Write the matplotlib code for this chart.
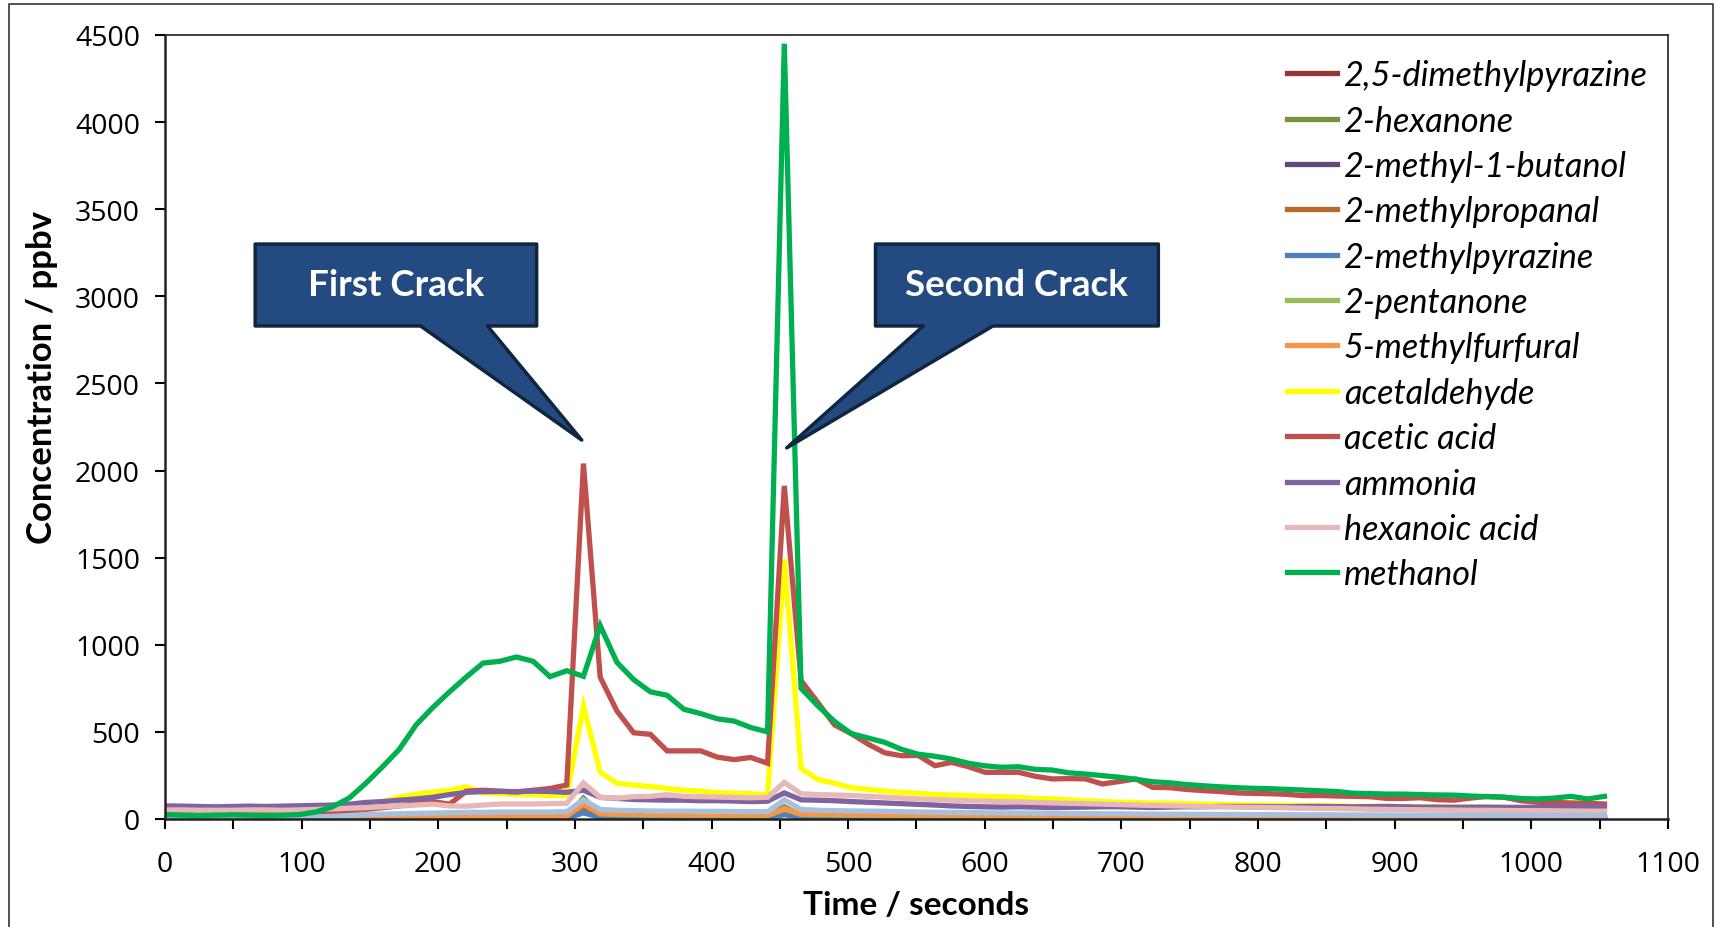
import numpy as np
import matplotlib.pyplot as plt
from matplotlib.patches import Polygon
from matplotlib.lines import Line2D

plt.rcParams['font.family'] = ['Lato', 'DejaVu Sans']

# sampling times (s)
time_s = np.arange(87) * 12.25

dimethylpyrazine_25 = [
    1, 1, 1, 1, 1, 1, 1, 1, 1, 1,
    2, 2, 2, 3, 3, 3, 4, 4, 5, 5,
    5, 6, 6, 6, 7, 45, 14, 11, 10, 9,
    9, 8, 8, 8, 8, 7, 7, 30, 11, 9,
    8, 8, 7, 7, 7, 6, 6, 6, 6, 5,
    5, 5, 5, 5, 5, 4, 4, 4, 4, 4,
    4, 4, 4, 4, 3, 3, 3, 3, 3, 3,
    3, 3, 3, 3, 3, 3, 2, 2, 2, 2,
    2, 2, 2, 2, 2, 2, 2]
hexanone_2 = [
    4, 4, 4, 4, 4, 4, 4, 4, 4, 4,
    5, 5, 6, 6, 7, 7, 8, 8, 9, 9,
    10, 10, 11, 11, 12, 120, 25, 20, 18, 17,
    16, 16, 15, 15, 15, 14, 14, 70, 20, 18,
    17, 16, 15, 15, 14, 14, 13, 13, 13, 12,
    12, 12, 11, 11, 11, 11, 10, 10, 10, 10,
    10, 9, 9, 9, 9, 9, 8, 8, 8, 8,
    8, 8, 8, 7, 7, 7, 7, 7, 7, 7,
    7, 6, 6, 6, 6, 6, 6]
methyl_butanol = [
    5, 5, 5, 5, 5, 5, 5, 5, 5, 5,
    6, 6, 7, 7, 8, 8, 9, 9, 10, 10,
    11, 11, 12, 12, 12, 40, 16, 15, 14, 14,
    13, 13, 13, 12, 12, 12, 12, 30, 14, 13,
    13, 12, 12, 11, 11, 11, 10, 10, 10, 10,
    9, 9, 9, 9, 9, 8, 8, 8, 8, 8,
    8, 7, 7, 7, 7, 7, 7, 6, 6, 6,
    6, 6, 6, 6, 6, 6, 5, 5, 5, 5,
    5, 5, 5, 5, 5, 5, 5]
methylpropanal = [
    2, 2, 2, 2, 2, 2, 2, 2, 2, 2,
    3, 3, 4, 4, 5, 5, 6, 6, 7, 7,
    8, 8, 9, 9, 10, 60, 18, 15, 14, 13,
    12, 12, 11, 11, 11, 10, 10, 40, 15, 13,
    12, 12, 11, 11, 10, 10, 10, 9, 9, 9,
    9, 8, 8, 8, 8, 8, 7, 7, 7, 7,
    7, 7, 6, 6, 6, 6, 6, 6, 6, 5,
    5, 5, 5, 5, 5, 5, 5, 5, 5, 4,
    4, 4, 4, 4, 4, 4, 4]
methylpyrazine = [
    1, 1, 1, 1, 1, 1, 1, 1, 1, 1,
    1, 2, 2, 2, 2, 3, 3, 3, 3, 4,
    4, 4, 4, 5, 5, 35, 10, 8, 7, 7,
    6, 6, 6, 6, 6, 5, 5, 25, 8, 7,
    6, 6, 6, 5, 5, 5, 5, 5, 4, 4,
    4, 4, 4, 4, 4, 3, 3, 3, 3, 3,
    3, 3, 3, 3, 3, 3, 3, 2, 2, 2,
    2, 2, 2, 2, 2, 2, 2, 2, 2, 2,
    2, 2, 2, 2, 2, 1, 1]
pentanone_2 = [
    6, 6, 6, 6, 6, 6, 6, 6, 6, 6,
    7, 8, 9, 10, 11, 12, 13, 14, 15, 16,
    17, 17, 18, 18, 19, 90, 30, 26, 24, 23,
    22, 22, 21, 21, 20, 20, 20, 60, 26, 24,
    23, 22, 21, 20, 20, 19, 19, 18, 18, 17,
    17, 17, 16, 16, 16, 15, 15, 15, 14, 14,
    14, 14, 13, 13, 13, 13, 12, 12, 12, 12,
    12, 11, 11, 11, 11, 11, 10, 10, 10, 10,
    10, 10, 10, 9, 9, 9, 9]
methylfurfural = [
    3, 3, 3, 3, 3, 3, 3, 3, 3, 4,
    5, 6, 7, 8, 9, 10, 11, 12, 13, 14,
    15, 15, 16, 16, 17, 85, 30, 28, 27, 26,
    25, 25, 24, 24, 23, 23, 22, 55, 30, 28,
    27, 26, 25, 24, 24, 23, 22, 22, 21, 21,
    20, 20, 20, 19, 19, 19, 18, 18, 18, 17,
    17, 17, 17, 16, 16, 16, 16, 15, 15, 15,
    15, 15, 14, 14, 14, 14, 14, 13, 13, 13,
    13, 13, 12, 12, 12, 12, 12]
acetaldehyde = [
    10, 10, 10, 10, 10, 10, 10, 10, 12, 15,
    25, 45, 70, 100, 125, 143, 155, 165, 185, 150,
    145, 140, 140, 135, 135, 650, 268, 205, 195, 186,
    175, 165, 160, 150, 148, 145, 140, 1490, 290, 227,
    205, 180, 170, 160, 153, 148, 140, 138, 134, 130,
    128, 125, 118, 115, 110, 105, 100, 97, 94, 92,
    90, 88, 86, 84, 82, 80, 80, 78, 77, 76,
    75, 74, 73, 72, 71, 70, 70, 68, 67, 66,
    65, 64, 63, 62, 61, 60, 58]
acetic_acid = [
    30, 30, 30, 30, 32, 32, 32, 35, 35, 38,
    40, 45, 55, 65, 75, 90, 100, 85, 160, 165,
    160, 155, 165, 175, 195, 2040, 814, 620, 495, 486,
    391, 391, 391, 355, 341, 353, 320, 1912, 795, 669,
    540, 490, 430, 380, 363, 365, 306, 325, 300, 268,
    268, 268, 245, 230, 232, 230, 201, 215, 230, 182,
    180, 170, 163, 158, 150, 147, 145, 142, 134, 135,
    132, 130, 128, 118, 118, 122, 111, 108, 120, 130,
    125, 105, 96, 95, 92, 90, 86]
ammonia = [
    75, 74, 72, 70, 72, 74, 72, 74, 76, 78,
    80, 85, 95, 100, 108, 115, 125, 140, 153, 157,
    158, 157, 160, 158, 153, 165, 124, 118, 112, 110,
    108, 108, 105, 105, 103, 100, 102, 150, 110, 108,
    105, 100, 96, 92, 88, 84, 80, 75, 72, 70,
    68, 70, 68, 66, 67, 68, 70, 70, 68, 66,
    68, 70, 70, 72, 72, 72, 71, 70, 72, 72,
    71, 70, 71, 72, 70, 68, 68, 67, 68, 68,
    67, 67, 67, 68, 68, 70, 70]
hexanoic_acid = [
    52, 52, 50, 50, 50, 52, 52, 50, 52, 55,
    58, 62, 65, 70, 75, 80, 85, 75, 73, 80,
    86, 86, 86, 88, 90, 207, 124, 120, 128, 130,
    140, 130, 128, 126, 124, 122, 125, 210, 145, 140,
    138, 135, 130, 125, 120, 115, 112, 108, 105, 103,
    100, 98, 95, 92, 90, 88, 85, 83, 80, 78,
    76, 74, 72, 70, 68, 67, 66, 64, 62, 60,
    60, 58, 56, 55, 54, 53, 52, 51, 50, 50,
    49, 48, 48, 47, 46, 45, 45]
# series drawn in the chart but not listed in its legend
unlisted = [
    10, 10, 10, 10, 10, 10, 10, 10, 10, 12,
    15, 20, 25, 28, 30, 32, 34, 36, 38, 38,
    40, 40, 40, 40, 42, 110, 55, 50, 48, 46,
    45, 45, 44, 44, 43, 42, 42, 110, 55, 50,
    48, 46, 45, 44, 42, 40, 39, 38, 37, 36,
    35, 34, 34, 33, 32, 31, 30, 30, 29, 28,
    28, 27, 27, 26, 26, 25, 25, 25, 24, 24,
    24, 23, 23, 23, 22, 22, 22, 22, 21, 21,
    21, 21, 20, 20, 20, 20, 20]
methanol = [
    25, 22, 20, 22, 24, 22, 20, 22, 25, 40,
    70, 120, 205, 300, 400, 540, 640, 730, 815, 895,
    905, 930, 905, 817, 851, 819, 1110, 899, 800, 730,
    710, 630, 605, 575, 562, 525, 500, 4450, 750, 650,
    560, 490, 465, 440, 400, 372, 360, 344, 320, 305,
    297, 300, 285, 281, 265, 258, 249, 240, 228, 214,
    208, 198, 191, 185, 180, 176, 174, 170, 166, 162,
    158, 148, 146, 143, 143, 140, 138, 137, 132, 128,
    125, 118, 115, 120, 130, 115, 130]

series = [
    ('2,5-dimethylpyrazine', dimethylpyrazine_25, '#953735'),
    ('2-hexanone', hexanone_2, '#77933C'),
    ('2-methyl-1-butanol', methyl_butanol, '#604A7B'),
    ('2-methylpropanal', methylpropanal, '#B8692B'),
    ('2-methylpyrazine', methylpyrazine, '#4F81BD'),
    ('2-pentanone', pentanone_2, '#9BBB59'),
    ('5-methylfurfural', methylfurfural, '#F79646'),
    ('acetaldehyde', acetaldehyde, '#FFFF00'),
    ('acetic acid', acetic_acid, '#C0504D'),
    ('ammonia', ammonia, '#8064A2'),
    ('hexanoic acid', hexanoic_acid, '#E6B9B8'),
    (None, unlisted, '#A9C0DC'),
    ('methanol', methanol, '#00B050'),
]

fig = plt.figure(figsize=(17.24, 9.28), dpi=100)
W, H = 1724, 928
ax = fig.add_axes([165 / W, 1 - 820 / H, (1668 - 165) / W, (820 - 36) / H])

handles = []
for name, vals, col in series:
    ax.plot(time_s, vals, color=col, lw=3.8, solid_joinstyle='miter')
    if name:
        handles.append(Line2D([], [], color=col, lw=3.8, label=name))

ax.set_xlim(0, 1100)
ax.set_ylim(0, 4500)
ax.set_xticks(np.arange(0, 1101, 50))
ax.set_xticklabels([str(v) if v % 100 == 0 else '' for v in range(0, 1101, 50)])
ax.set_yticks(np.arange(0, 4501, 500))
ax.tick_params(direction='out', length=7, width=1.5, labelsize=20.5, top=False, right=False)
ax.tick_params(axis='y', pad=11)
ax.tick_params(axis='x', pad=15)
for lab in ax.get_xticklabels() + ax.get_yticklabels():
    lab.set_family(['Open Sans', 'DejaVu Sans'])
for s in ax.spines.values():
    s.set_linewidth(1.2)
    s.set_color('#222222')
ax.spines['left'].set_linewidth(1.8)
ax.spines['bottom'].set_linewidth(1.8)

ax.set_xlabel('Time / seconds', fontsize=24, fontweight='bold', labelpad=9)
ax.set_ylabel('Concentration / ppbv', fontsize=25, fontweight='bold')
ax.yaxis.set_label_coords(-0.071, 0.564)

leg = fig.legend(handles=handles, loc='upper left', bbox_to_anchor=(1270 / W, 1 - 43 / H),
                 frameon=False, prop={'style': 'italic', 'size': 24.7},
                 handlelength=1.45, handletextpad=0.2, labelspacing=0.39, borderpad=0)

# callout boxes
box_fc = '#234B82'
box_ec = '#10253F'
first = [(66, 3300), (272, 3300), (272, 2830), (236, 2830), (305, 2175), (187, 2830), (66, 2830)]
second = [(520, 3300), (727, 3300), (727, 2830), (606, 2830), (455, 2130), (555, 2830), (520, 2830)]
for pts in (first, second):
    ax.add_patch(Polygon(pts, closed=True, fc=box_fc, ec=box_ec, lw=2.5, joinstyle='round',
                         clip_on=False, zorder=5))
ax.text(169, 3068, 'First Crack', color='white', fontsize=26.5, fontweight='bold',
        ha='center', va='center', zorder=6)
ax.text(623, 3068, 'Second Crack', color='white', fontsize=26.5, fontweight='bold',
        ha='center', va='center', zorder=6)

# outer frame (bottom edge is cut off in the source)
fig.add_artist(Line2D([9 / W, 9 / W, 1713 / W, 1713 / W], [0, 1 - 5 / H, 1 - 5 / H, 0],
                      transform=fig.transFigure, color='#333333', lw=1.2))

fig.savefig('out.png', dpi=100, facecolor='white')
